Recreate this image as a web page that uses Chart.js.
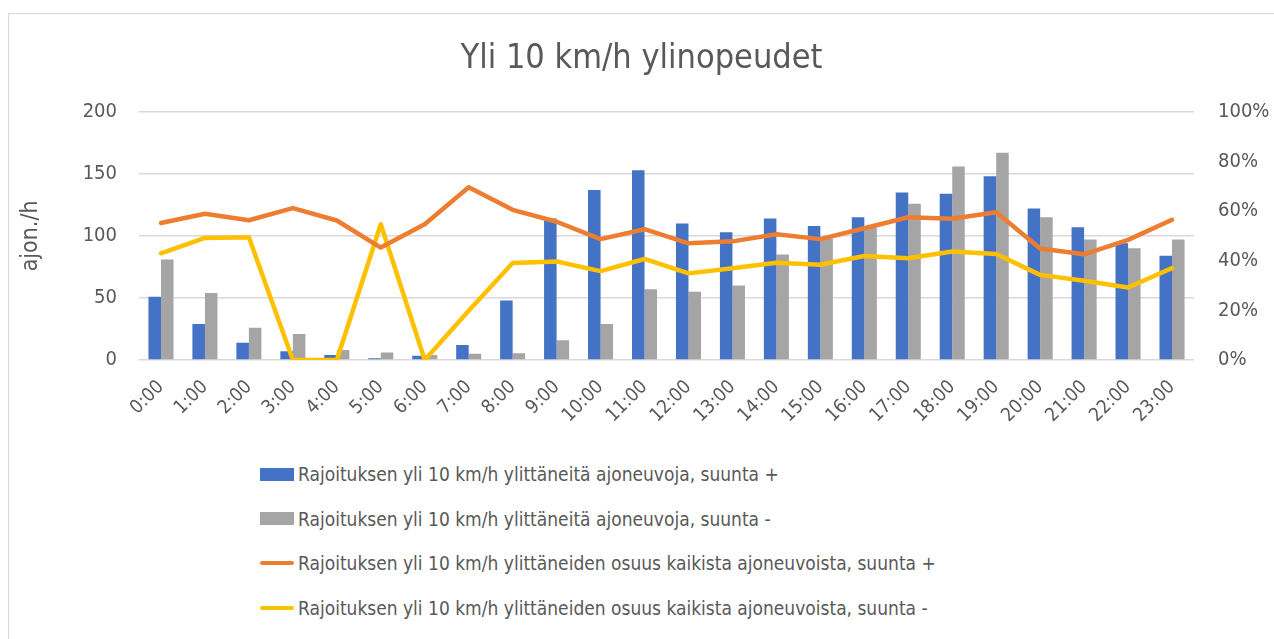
<!DOCTYPE html>
<html>
<head>
<meta charset="utf-8">
<script src="https://cdn.jsdelivr.net/npm/chart.js@4"></script>
<style>
  body { margin: 0; background: #fff; font-family: "Liberation Sans Narrow", "DejaVu Sans Condensed", sans-serif; }
  #box { position: absolute; left: 8px; top: 13px; width: 1300px; height: 700px; border: 1px solid #d9d9d9; }
  #wrap { position: absolute; left: 0; top: 0; width: 1265px; height: 430px; }
  #legend { position: absolute; left: 251px; top: 438px; }
  .item { height: 44.5px; display: flex; align-items: center; color: #595959; font-size: 19px; }
  .sym { width: 34px; margin-right: 4px; }
</style>
</head>
<body>
<div id="box">
  <div id="wrap"><canvas id="myChart"></canvas></div>
  <div id="legend"></div>
</div>
<script>
const ctx = document.getElementById('myChart');

const hours = ['0:00','1:00','2:00','3:00','4:00','5:00','6:00','7:00','8:00','9:00','10:00','11:00',
  '12:00','13:00','14:00','15:00','16:00','17:00','18:00','19:00','20:00','21:00','22:00','23:00'];

// vehicles per hour over the limit by more than 10 km/h
const countPlus = [51, 29, 14, 7, 4, 1.5, 3.5, 12, 48, 114, 137, 153, 110, 103, 114, 108, 115, 135, 134, 148, 122, 107, 94, 84];
const countMinus = [81, 54, 26, 21, 8, 6, 4, 5, 5.5, 16, 29, 57, 55, 60, 85, 98, 107, 126, 156, 167, 115, 97, 90, 97];

// share of all vehicles, fraction
const sharePlus = [0.552, 0.589, 0.563, 0.612, 0.562, 0.453, 0.547, 0.696, 0.605, 0.557, 0.487, 0.527,
  0.470, 0.478, 0.507, 0.487, 0.531, 0.575, 0.569, 0.595, 0.449, 0.426, 0.484, 0.565];
const shareMinus = [0.430, 0.492, 0.495, 0, 0, 0.547, 0, 0.198, 0.391, 0.397, 0.358, 0.407,
  0.349, 0.370, 0.392, 0.384, 0.419, 0.410, 0.437, 0.427, 0.343, 0.319, 0.292, 0.370];

const leftTicks = [0, 50, 100, 150, 200];

const labels = [
  'Rajoituksen yli 10 km/h ylittäneitä ajoneuvoja, suunta +',
  'Rajoituksen yli 10 km/h ylittäneitä ajoneuvoja, suunta -',
  'Rajoituksen yli 10 km/h ylittäneiden osuus kaikista ajoneuvoista, suunta +',
  'Rajoituksen yli 10 km/h ylittäneiden osuus kaikista ajoneuvoista, suunta -'
];

const fontFam = '"Liberation Sans Narrow", "DejaVu Sans Condensed", sans-serif';
const grey = '#595959';

const chart = new Chart(ctx, {
  type: 'bar',
  data: {
    labels: hours,
    datasets: [
      { type: 'line', label: labels[2], data: sharePlus, yAxisID: 'y1', borderColor: '#ED7D31',
        backgroundColor: '#ED7D31', borderWidth: 4.5, pointRadius: 0, tension: 0, order: 0,
        borderJoinStyle: 'round', borderCapStyle: 'round' },
      { type: 'line', label: labels[3], data: shareMinus, yAxisID: 'y1', borderColor: '#FFC000',
        backgroundColor: '#FFC000', borderWidth: 4.5, pointRadius: 0, tension: 0, order: 0,
        borderJoinStyle: 'round', borderCapStyle: 'round' },
      { label: labels[0], data: countPlus, yAxisID: 'y', backgroundColor: '#4472C4', order: 1 },
      { label: labels[1], data: countMinus, yAxisID: 'y', backgroundColor: '#A5A5A5', order: 1 }
    ]
  },
  options: {
    responsive: true,
    maintainAspectRatio: false,
    animation: false,
    datasets: { bar: { categoryPercentage: 0.57, barPercentage: 1.0 } },
    layout: { padding: 0 },
    plugins: {
      legend: { display: false },
      tooltip: { enabled: false },
      title: {
        display: true,
        text: 'Yli 10 km/h ylinopeudet',
        color: grey,
        font: { family: fontFam, size: 34, weight: 'normal' },
        padding: { top: 25, bottom: 32 }
      }
    },
    scales: {
      x: {
        grid: { display: false },
        border: { display: false },
        ticks: { color: grey, font: { family: fontFam, size: 19 }, maxRotation: 45, minRotation: 45, padding: 8 },
        afterFit: function(scale) { scale.height = 84; }
      },
      y: {
        position: 'left',
        min: 0, max: 200,
        afterBuildTicks: function(scale) { scale.ticks = leftTicks.map(v => ({ value: v })); },
        grid: { color: '#d9d9d9', lineWidth: 1.5, drawTicks: false },
        border: { display: false },
        ticks: { color: grey, font: { family: fontFam, size: 20 }, padding: 22 },
        title: { display: true, text: 'ajon./h', color: grey, font: { family: fontFam, size: 23 }, padding: { top: 8, bottom: 0 } },
        afterFit: function(scale) { scale.width = 130; }
      },
      y1: {
        position: 'right',
        min: 0, max: 1,
        grid: { display: false, drawTicks: false },
        border: { display: false },
        ticks: { stepSize: 0.2, color: grey, font: { family: fontFam, size: 20 }, padding: 24,
          callback: v => Math.round(v * 100) + '%' },
        afterFit: function(scale) { scale.width = 80; }
      }
    }
  }
});

// legend in one left-aligned block, like the original
const legendBox = document.getElementById('legend');
const legendOrder = [2, 3, 0, 1];
legendOrder.forEach(function(i) {
  const ds = chart.data.datasets[i];
  const item = document.createElement('div');
  item.className = 'item';
  const sym = document.createElement('div');
  sym.className = 'sym';
  if (ds.type === 'line') {
    sym.style.height = '4px';
    sym.style.borderRadius = '2px';
  } else {
    sym.style.height = '13px';
  }
  sym.style.background = ds.backgroundColor;
  const txt = document.createElement('span');
  txt.textContent = ds.label;
  item.appendChild(sym);
  item.appendChild(txt);
  legendBox.appendChild(item);
});
</script>
</body>
</html>
